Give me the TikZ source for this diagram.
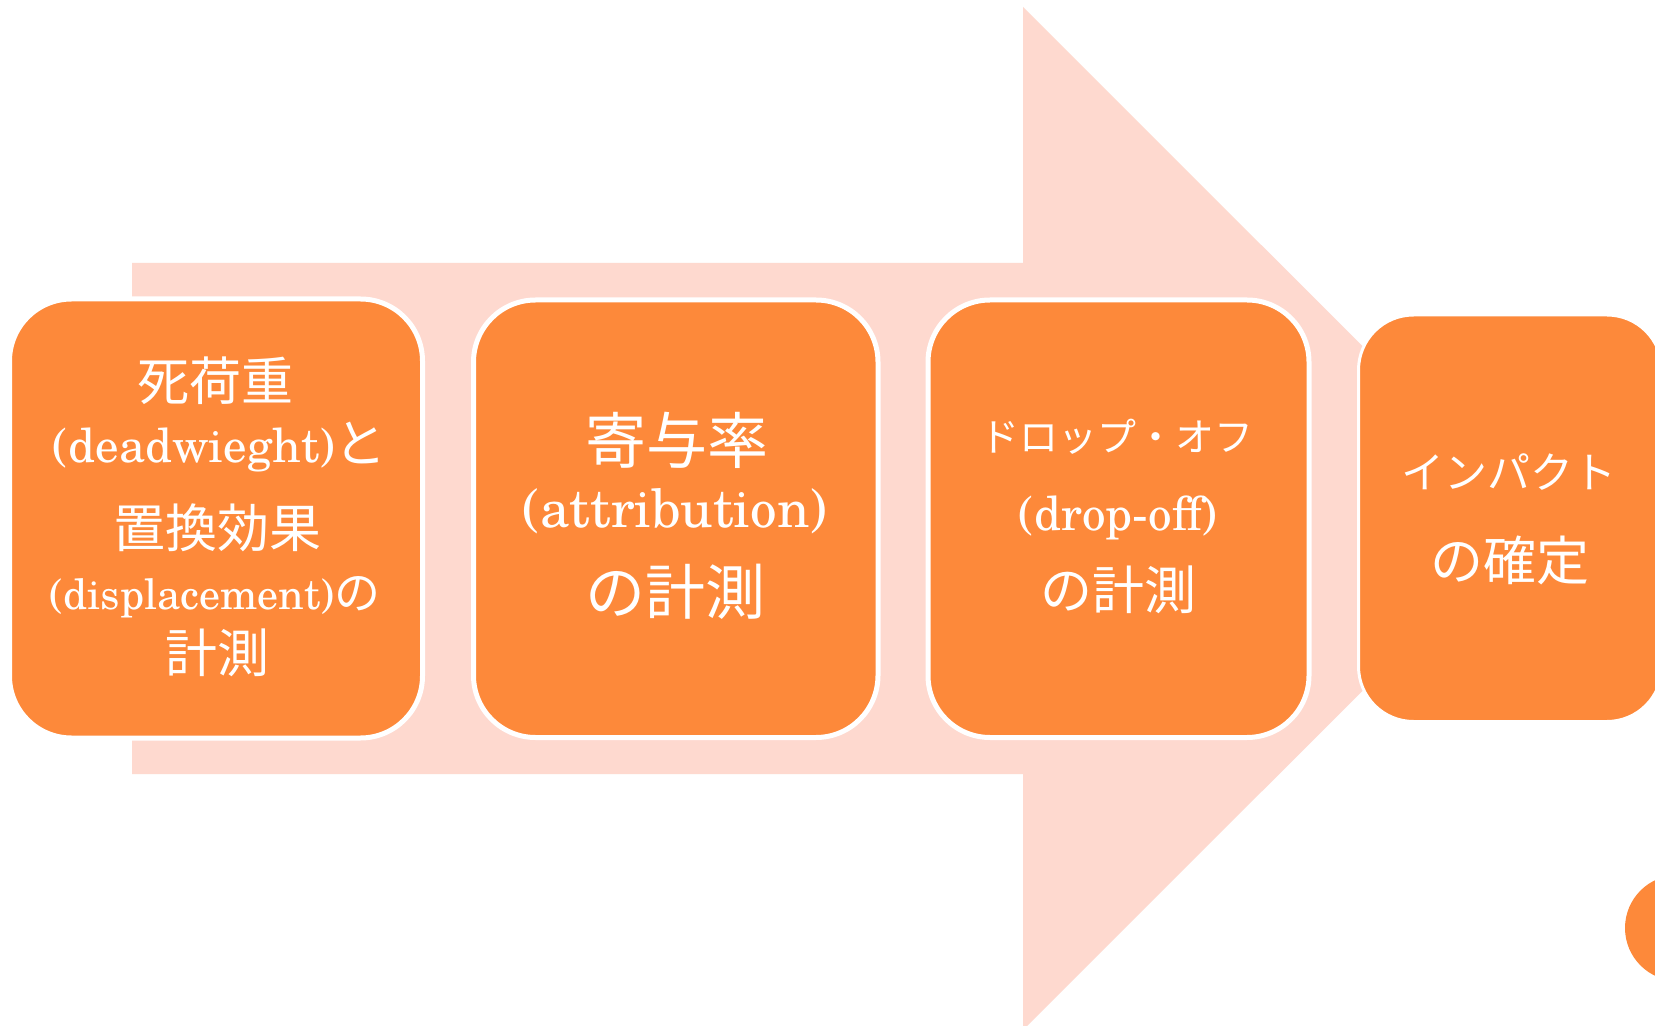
\documentclass[tikz,border=0pt]{standalone}
\usepackage{fontspec}
\setmainfont{texgyreschola-regular.otf}
\newfontfamily\jp{Noto Sans CJK JP}
\definecolor{stageorange}{HTML}{FD893A}
\definecolor{arrowpeach}{HTML}{FED9CF}
\tikzset{
  stagebox/.style={rectangle, fill=stageorange, draw=white, line width=2.5pt,
    rounded corners=31pt, inner sep=0pt},
  lastbox/.style={stagebox, line width=1.5pt, rounded corners=27.5pt},
  txt/.style={text=white, inner sep=0pt, anchor=center},
}
\begin{document}
\begin{tikzpicture}[x=0.5pt, y=-0.5pt]
  \useasboundingbox (0,0) rectangle (1655,1026);
  \fill[white] (0,0) rectangle (1655,1026);
  \clip (0,0) rectangle (1655,1026);

  % big background arrow
  \fill[arrowpeach] (132,263) -- (1023,263) -- (1023,7) -- (1535,518.5)
    -- (1023,1030) -- (1023,774) -- (132,774) -- cycle;

  % stage boxes
  \node[stagebox, minimum width=206.5pt, minimum height=219.5pt] (b1) at (216,518.5) {};
  \node[stagebox, minimum width=202.25pt, minimum height=218.75pt] (b2) at (675.75,518.75) {};
  \node[stagebox, minimum width=190.5pt, minimum height=218.75pt] (b3) at (1118.5,518.75) {};
  \node[lastbox, minimum width=151.75pt, minimum height=203.25pt] (b4) at (1510.25,518.25) {};

  % partial circle at the lower right
  \fill[stageorange] (1678,928) circle (53);

  % box 1 text
  \node[txt, font=\fontsize{26pt}{30pt}\selectfont] (b1l1) at (215.5,381) {\jp 死荷重};
  \node[txt, font=\fontsize{23.5pt}{30pt}\selectfont] (b1l2) at (220,447) {(deadwieght){\jp\fontsize{26pt}{30pt}\selectfont と}};
  \node[txt, font=\fontsize{26pt}{30pt}\selectfont] (b1l3) at (217.5,528) {\jp 置換効果};
  \node[txt, font=\fontsize{21pt}{26pt}\selectfont] (b1l4) at (215,597) {(displacement){\jp\fontsize{23pt}{26pt}\selectfont の}};
  \node[txt, font=\fontsize{26pt}{30pt}\selectfont] (b1l5) at (217,653) {\jp 計測};

  % box 2 text
  \node[txt, font=\fontsize{30.5pt}{34pt}\selectfont] (b2l1) at (676.5,440) {\jp 寄与率};
  \node[txt, font=\fontsize{26.5pt}{32pt}\selectfont] (b2l2) at (675,511) {(attribution)};
  \node[txt, font=\fontsize{30pt}{34pt}\selectfont] (b2l3) at (675,592) {\jp の計測};

  % box 3 text
  \node[txt, font=\fontsize{19.5pt}{24pt}\selectfont] (b3l1) at (1117,437) {\jp ドロップ・オフ};
  \node[txt, font=\fontsize{23.5pt}{28pt}\selectfont] (b3l2) at (1118,518) {(drop-off)};
  \node[txt, font=\fontsize{26pt}{30pt}\selectfont] (b3l3) at (1118,590) {\jp の計測};

  % box 4 text
  \node[txt, font=\fontsize{21.5pt}{26pt}\selectfont] (b4l1) at (1509,472) {\jp インパクト};
  \node[txt, font=\fontsize{26.5pt}{30pt}\selectfont] (b4l2) at (1510,560) {\jp の確定};
\end{tikzpicture}
\end{document}
